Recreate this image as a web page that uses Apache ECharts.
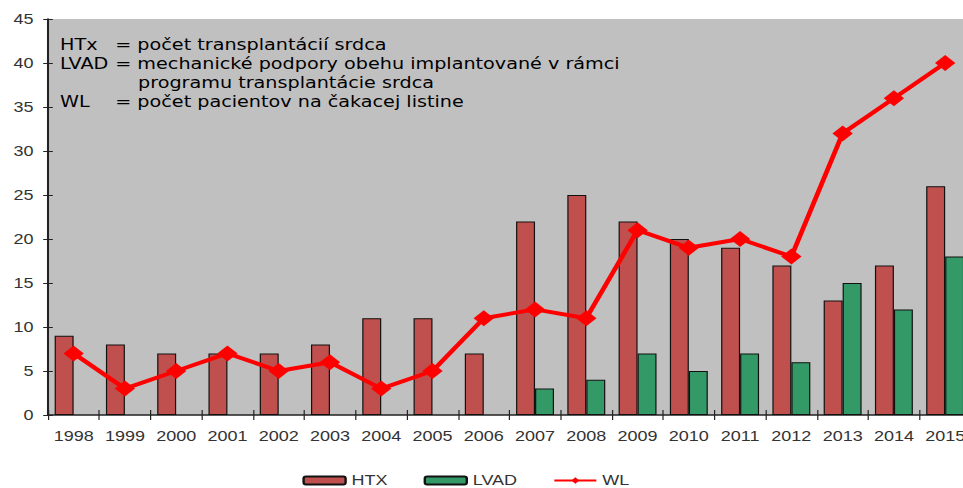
<!DOCTYPE html>
<html>
<head>
<meta charset="utf-8">
<script src="https://cdn.jsdelivr.net/npm/echarts@6/dist/echarts.min.js"></script>
<style>
html,body{margin:0;padding:0;background:#fff;overflow:hidden;width:963px;height:488px}
#c{width:809px;height:488px;transform:scaleX(1.2);transform-origin:0 0}
</style>
</head>
<body>
<div id="c"></div>
<script>
const years = ['1998','1999','2000','2001','2002','2003','2004','2005','2006','2007','2008','2009','2010','2011','2012','2013','2014','2015'];
const htx = [9, 8, 7, 7, 7, 8, 11, 11, 7, 22, 25, 22, 20, 19, 17, 13, 17, 26];
const lvad = [null, null, null, null, null, null, null, null, null, 3, 4, 7, 5, 7, 6, 15, 12, 18];
const wl = [7, 3, 5, 7, 5, 6, 3, 5, 11, 12, 11, 21, 19, 20, 18, 32, 36, 40];
const yTicks = {min: 0, max: 45, interval: 5};
const noteLabels = ['HTx', 'LVAD', '', 'WL'];
const noteTexts = ['= počet transplantácií srdca', '= mechanické podpory obehu implantované v rámci', 'programu transplantácie srdca', '= počet pacientov na čakacej listine'];

const chart = echarts.init(document.getElementById('c'), null, {renderer: 'svg'});
const noteFont = '16px "DejaVu Sans"';
const noteY = [45, 64, 83, 102];
const graphics = [];
noteLabels.forEach((t, i) => {
  if (t) graphics.push({type: 'text', left: 50, top: noteY[i] - 8, style: {text: t, font: noteFont, fill: '#000'}});
});
noteTexts.forEach((t, i) => {
  graphics.push({type: 'text', left: i === 2 ? 115 : 96, top: noteY[i] - 8, style: {text: t, font: noteFont, fill: '#000'}});
});

const axisLabelStyle = {color: '#333', fontFamily: 'Liberation Sans', fontSize: 15};
chart.setOption({
  animation: false,
  grid: {left: 40, top: 19, bottom: 73, right: 0, show: true, backgroundColor: '#C0C0C0', borderWidth: 0},
  legend: {
    top: 468, left: 247, itemWidth: 35, itemHeight: 8, itemGap: 30,
    textStyle: {color: '#333', fontFamily: 'Liberation Sans', fontSize: 15},
    data: ['HTX', 'LVAD', 'WL']
  },
  xAxis: [{
    type: 'category', data: years,
    axisLine: {lineStyle: {color: '#222', width: 1.5}},
    axisTick: {show: true, length: 5, lineStyle: {color: '#222'}},
    axisLabel: Object.assign({margin: 14, interval: 0}, axisLabelStyle)
  }, {
    type: 'category', data: years, position: 'bottom',
    axisLine: {show: false}, axisTick: {show: true, inside: true, length: 5, lineStyle: {color: '#222'}},
    axisLabel: {show: false}
  }],
  yAxis: [{
    type: 'value', min: yTicks.min, max: yTicks.max, interval: yTicks.interval,
    splitLine: {show: false},
    axisLine: {show: true, lineStyle: {color: '#222', width: 1.7}},
    axisTick: {show: true, length: 4, lineStyle: {color: '#222'}},
    axisLabel: Object.assign({margin: 12}, axisLabelStyle)
  }, {
    type: 'value', min: yTicks.min, max: yTicks.max, interval: yTicks.interval, position: 'left',
    splitLine: {show: false}, axisLine: {show: false},
    axisTick: {show: true, inside: true, length: 4, lineStyle: {color: '#222'}},
    axisLabel: {show: false}
  }],
  series: [{
    name: 'HTX', type: 'bar', data: htx, barGap: '0%', barCategoryGap: '26%',
    itemStyle: {color: '#C0504D', borderColor: '#111', borderWidth: 1}
  }, {
    name: 'LVAD', type: 'bar', data: lvad,
    itemStyle: {color: '#339966', borderColor: '#111', borderWidth: 1}
  }, {
    name: 'WL', type: 'line', data: wl, symbol: 'diamond', symbolSize: [17, 16],
    lineStyle: {color: '#FF0000', width: 4}, itemStyle: {color: '#FF0000'}, z: 5
  }],
  graphic: graphics
});
</script>
</body>
</html>
